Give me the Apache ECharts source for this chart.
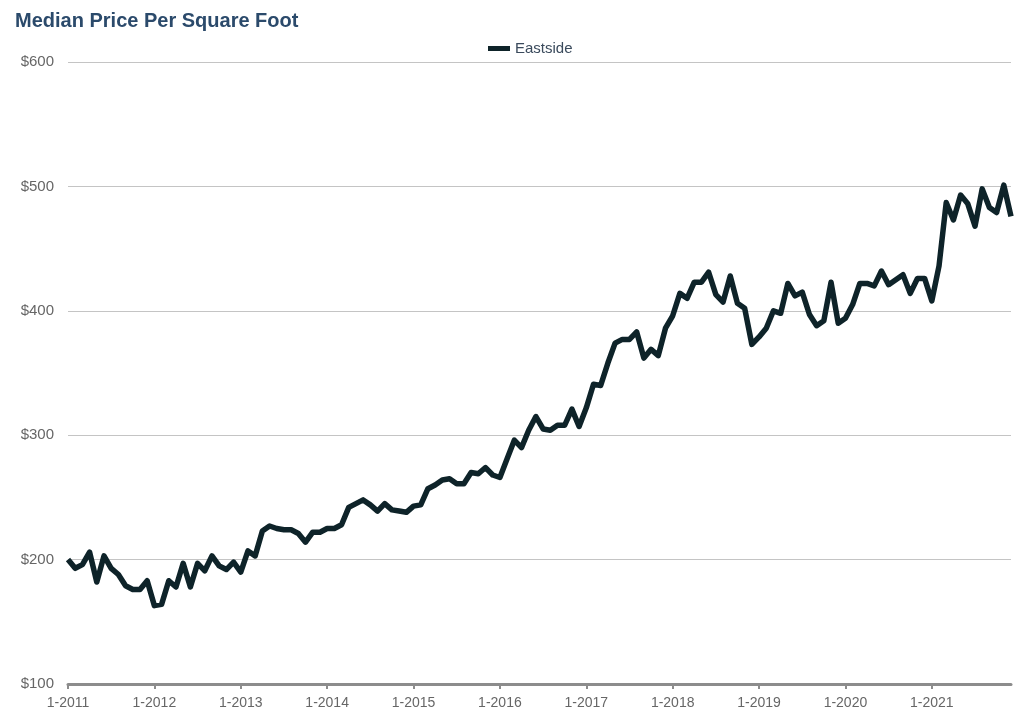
<!DOCTYPE html>
<html>
<head>
<meta charset="utf-8">
<script src="https://cdn.jsdelivr.net/npm/echarts@6/dist/echarts.min.js"></script>
<style>html,body{margin:0;padding:0;background:#fff}#c{width:1024px;height:713px}</style>
</head>
<body>
<div id="c"></div>
<script>
const years = [2011,2012,2013,2014,2015,2016,2017,2018,2019,2020,2021];
const v2011 = [200,193,196,206,182,203,193,188,179,176,176,183];
const v2012 = [163,164,183,178,197,178,197,191,203,195,192,198];
const v2013 = [190,207,203,223,227,225,224,224,221,214,222,222];
const v2014 = [225,225,228,242,245,248,244,239,245,240,239,238];
const v2015 = [243,244,257,260,264,265,261,261,270,269,274,268];
const v2016 = [266,281,296,290,304,315,305,304,308,308,321,307];
const v2017 = [322,341,340,358,374,377,377,383,362,369,364,386];
const v2018 = [396,414,410,423,423,431,413,407,428,406,402,373];
const v2019 = [379,386,400,398,422,412,415,397,388,392,423,390];
const v2020 = [394,405,422,422,420,432,421,425,429,414,426,426];
const v2021 = [408,436,487,473,493,486,468,498,483,479,501,476];
const eastside = [].concat(v2011,v2012,v2013,v2014,v2015,v2016,v2017,v2018,v2019,v2020,v2021);
const months = [];
years.forEach(y => { for (let m = 1; m <= 12; m++) months.push(m + '-' + y); });

const chart = echarts.init(document.getElementById('c'));
chart.setOption({
  animation: false,
  textStyle: { fontFamily: 'Liberation Sans, Arial, sans-serif' },
  title: {
    text: 'Median Price Per Square Foot',
    left: 10, top: 6,
    textStyle: { fontSize: 20, fontWeight: 'bold', color: '#2b4a6b', fontFamily: 'Liberation Sans, Arial, sans-serif' }
  },
  legend: {
    data: ['Eastside'],
    left: 483, top: 36,
    icon: 'rect', itemWidth: 22, itemHeight: 5, itemGap: 6,
    textStyle: { fontSize: 15, color: '#3a4a5c' }
  },
  grid: { left: 68, right: 13, top: 62, bottom: 29, containLabel: false },
  xAxis: {
    type: 'category',
    data: months,
    boundaryGap: false,
    axisLine: { lineStyle: { color: '#8c8c8c', width: 3 } },
    axisTick: { show: true, length: 5, interval: i => i % 12 === 0, lineStyle: { color: '#8c8c8c', width: 2 } },
    axisLabel: { interval: i => i % 12 === 0, color: '#666', fontSize: 14, margin: 12 },
    splitLine: { show: false }
  },
  yAxis: {
    type: 'value',
    min: 100, max: 600, interval: 100,
    axisLine: { show: false },
    axisTick: { show: false },
    axisLabel: { formatter: v => '$' + v, color: '#666', fontSize: 15, margin: 14 },
    splitLine: { lineStyle: { color: '#c4c4c4', width: 1.2 } }
  },
  series: [{
    name: 'Eastside',
    type: 'line',
    data: eastside,
    showSymbol: false,
    symbol: 'none',
    lineStyle: { color: '#0e2329', width: 5.5, join: 'round' },
    itemStyle: { color: '#0e2329' }
  }]
});
</script>
</body>
</html>
